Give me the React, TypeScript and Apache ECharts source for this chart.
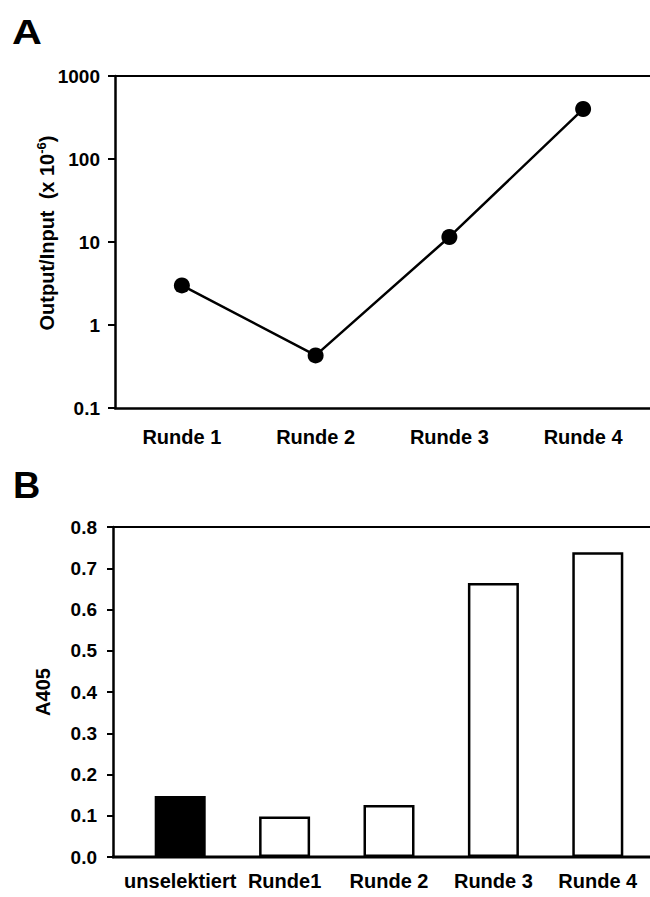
import React, { useEffect, useRef } from "react";
import * as echarts from "echarts";

// Panel A data
const roundsA = ["Runde 1", "Runde 2", "Runde 3", "Runde 4"];
const outputInput = [3.0, 0.43, 11.5, 400];
// Panel B data
const catsB = ["unselektiert", "Runde1", "Runde 2", "Runde 3", "Runde 4"];
const a405 = [0.148, 0.098, 0.126, 0.664, 0.739];
const barFills = ["#000000", "#ffffff", "#ffffff", "#ffffff", "#ffffff"];

const FONT = "'Liberation Sans', Arial, Helvetica, sans-serif";

export default function App() {
  const ref = useRef<HTMLDivElement>(null);
  useEffect(() => {
    document.body.style.margin = "0";
    if (!ref.current) return;
    const chart = echarts.init(ref.current, undefined, { renderer: "svg" });

    // layout constants
    const aTop = 76, aH = 332, aLeft = 115, aW = 541;
    const bTop = 527, bH = 330, bLeft = 128, bW = 522, bOff = 15;

    const lbl = { color: "#000", fontFamily: FONT, fontWeight: "bold" as const };

    chart.setOption({
      animation: false,
      backgroundColor: "#ffffff",
      textStyle: { fontFamily: FONT },
      grid: [
        { left: aLeft, top: aTop, width: aW, height: aH },
        { left: bLeft, top: bTop, width: bW, height: bH },
      ],
      xAxis: [
        {
          type: "category",
          gridIndex: 0,
          data: roundsA,
          boundaryGap: true,
          axisLine: { show: true, lineStyle: { color: "#000", width: 2.5 } },
          axisTick: { show: false },
          axisLabel: { ...lbl, fontSize: 20, margin: 19, interval: 0 },
        },
        {
          type: "category",
          gridIndex: 0,
          position: "top",
          data: roundsA,
          axisLine: { show: true, lineStyle: { color: "#000", width: 2 } },
          axisTick: { show: false },
          axisLabel: { show: false },
        },
        {
          type: "category",
          gridIndex: 1,
          data: catsB,
          boundaryGap: true,
          axisLine: { show: false },
          axisTick: { show: false },
          axisLabel: { ...lbl, fontSize: 20, margin: 14, interval: 0 },
        },
      ],
      yAxis: [
        {
          type: "log",
          gridIndex: 0,
          logBase: 10,
          min: 0.1,
          max: 1000,
          splitLine: { show: false },
          axisLine: { show: true, lineStyle: { color: "#000", width: 2.5 } },
          axisTick: { show: true, length: 7, lineStyle: { color: "#000", width: 2 } },
          axisLabel: {
            ...lbl,
            fontSize: 19,
            margin: 15,
            formatter: (v: number) => String(+Number(v).toPrecision(6)),
          },
          name: "{a|Output/Input  (x 10}{s|-6}{a|)}",
          nameLocation: "middle",
          nameGap: 56,
          nameMoveOverlap: false,
          nameTextStyle: {
            padding: [0, 0, 0, 18],
            rich: {
              a: { ...lbl, fontSize: 20, lineHeight: 24 },
              s: { ...lbl, fontSize: 13, verticalAlign: "top", lineHeight: 24 },
            },
          },
        },
        {
          type: "value",
          gridIndex: 1,
          min: 0,
          max: 0.8,
          interval: 0.1,
          offset: bOff,
          splitLine: { show: false },
          axisLine: { show: true, lineStyle: { color: "#000", width: 2.5 } },
          axisTick: { show: true, length: 6, lineStyle: { color: "#000", width: 2 } },
          axisLabel: {
            ...lbl,
            fontSize: 19,
            margin: 16,
            formatter: (v: number) => Number(v).toFixed(1),
          },
          name: "A405",
          nameLocation: "middle",
          nameGap: 60,
          nameMoveOverlap: false,
          nameTextStyle: { ...lbl, fontSize: 20 },
        },
      ],
      series: [
        {
          type: "line",
          xAxisIndex: 0,
          yAxisIndex: 0,
          data: outputInput,
          symbol: "circle",
          symbolSize: 16,
          lineStyle: { color: "#000", width: 2.5 },
          itemStyle: { color: "#000" },
          z: 5,
        },
        {
          type: "bar",
          xAxisIndex: 2,
          yAxisIndex: 1,
          barWidth: 51,
          data: a405.map((v, i) => ({
            value: v,
            itemStyle: { color: barFills[i], borderColor: "#000", borderWidth: 2.5 },
          })),
        },
      ],
      graphic: [
        {
          type: "text",
          x: 12,
          y: 31,
          z: 100,
          scaleX: 1.15,
          style: { text: "A", fontSize: 36, fontWeight: "bold", fontFamily: FONT, fill: "#000", verticalAlign: "middle" },
        },
        {
          type: "text",
          x: 13,
          y: 486,
          z: 100,
          scaleX: 1.05,
          style: { text: "B", fontSize: 36, fontWeight: "bold", fontFamily: FONT, fill: "#000", verticalAlign: "middle" },
        },
        {
          type: "line",
          z: 100,
          shape: { x1: bLeft - bOff, y1: bTop, x2: 650, y2: bTop },
          style: { stroke: "#000", lineWidth: 2 },
        },
        {
          type: "line",
          z: 100,
          shape: { x1: bLeft - bOff - 1, y1: bTop + bH, x2: 650, y2: bTop + bH },
          style: { stroke: "#000", lineWidth: 3 },
        },
      ],
    });
    return () => chart.dispose();
  }, []);
  return (
    <div
      ref={ref}
      style={{ position: "absolute", left: 0, top: 0, width: 650, height: 897, background: "#fff" }}
    />
  );
}
